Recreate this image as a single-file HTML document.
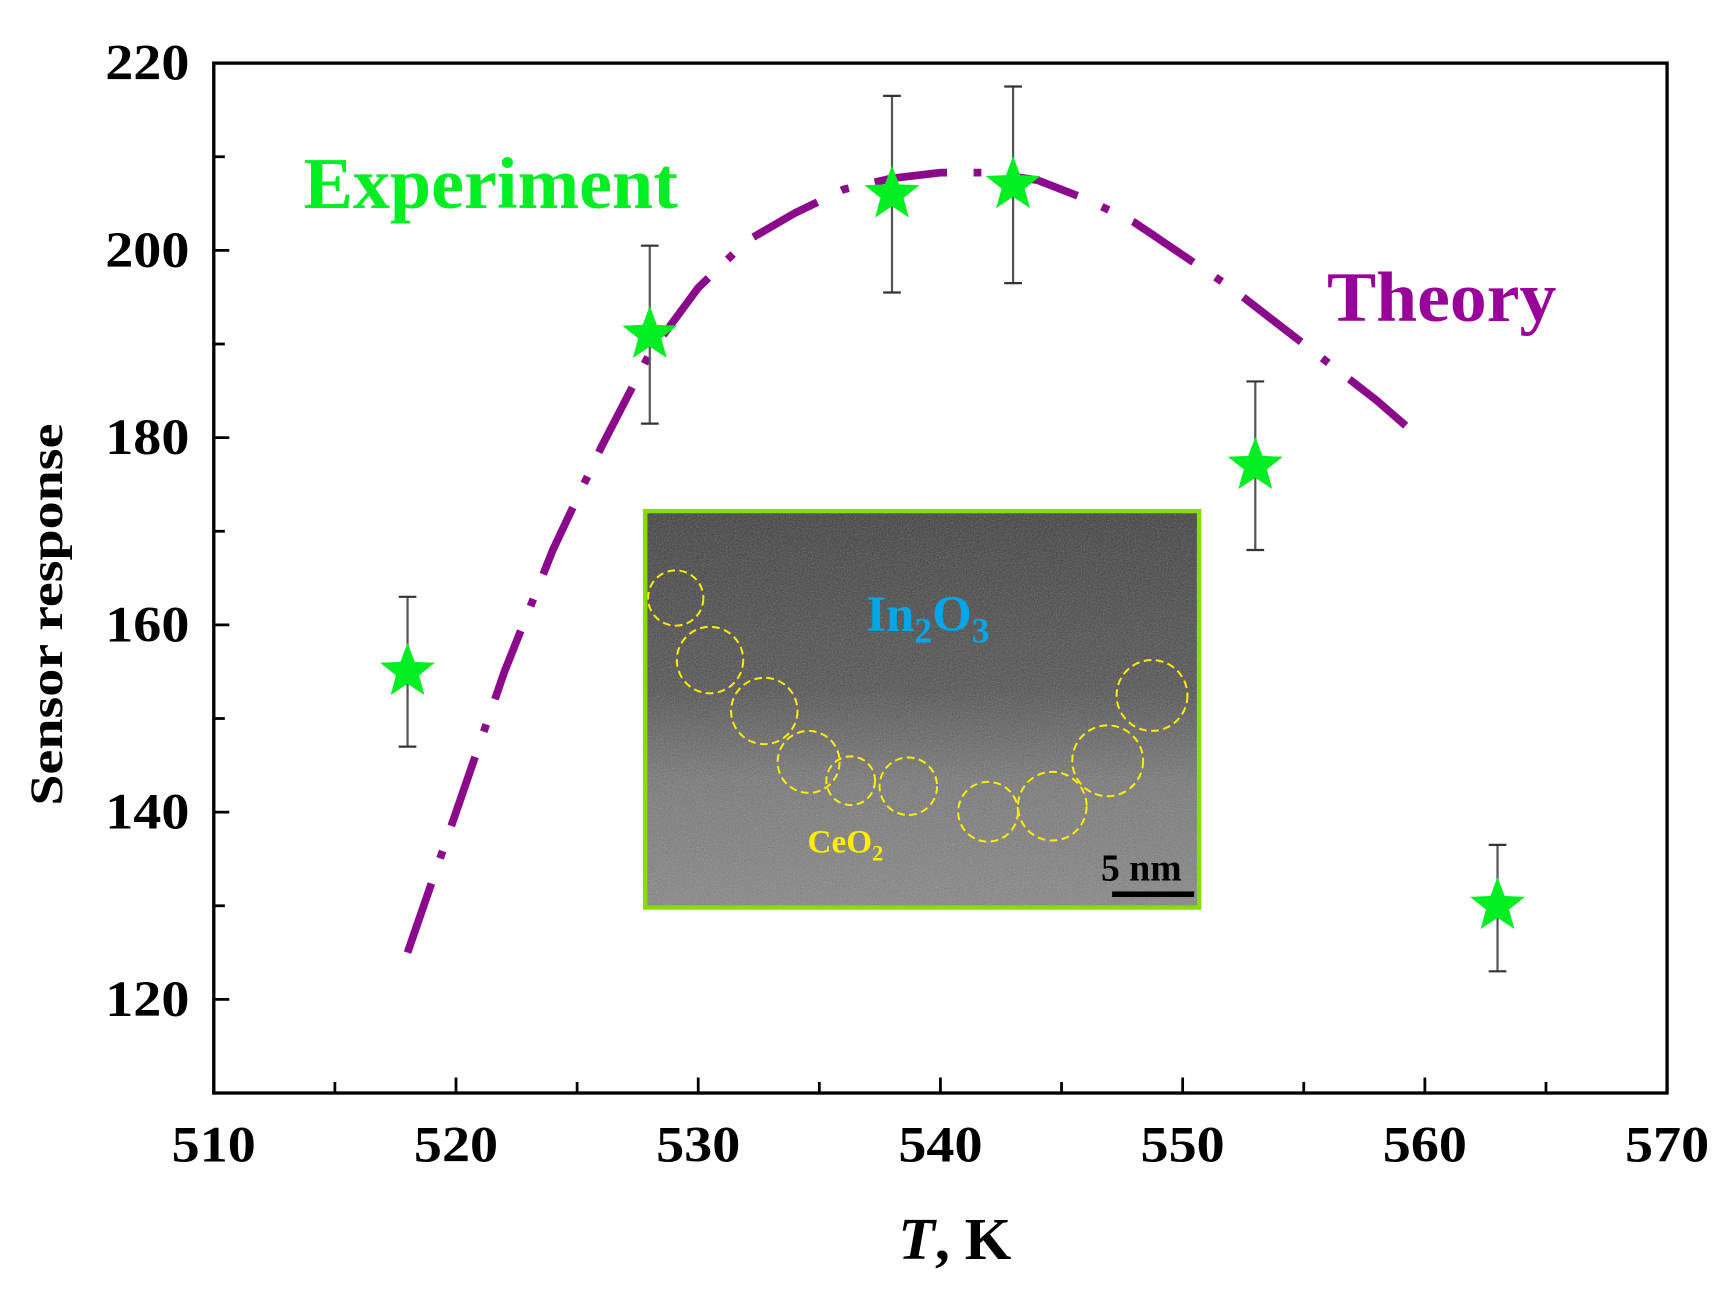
<!DOCTYPE html>
<html><head><meta charset="utf-8"><style>
html,body{margin:0;padding:0;background:#fff;}
svg{display:block;}
text{font-family:"Liberation Serif",serif;font-weight:bold;}
</style></head><body>
<svg id="chart" width="1728" height="1299" viewBox="0 0 1560 1173" preserveAspectRatio="none" xmlns="http://www.w3.org/2000/svg">
<defs>
<linearGradient id="temGrad" x1="0" y1="0" x2="0" y2="1">
<stop offset="0" stop-color="#3a3a3a"/><stop offset="0.45" stop-color="#4e4e4e"/><stop offset="0.68" stop-color="#747474"/><stop offset="1" stop-color="#838383"/>
</linearGradient>
<filter id="noise" x="0" y="0" width="100%" height="100%">
<feTurbulence type="fractalNoise" baseFrequency="0.8" numOctaves="2" result="t"/>
<feColorMatrix type="saturate" values="0"/>
</filter>
</defs>
<g id="inset">
<rect x="584" y="462" width="497" height="356" fill="url(#temGrad)"/>
<rect x="584" y="462" width="497" height="356" filter="url(#noise)" opacity="0.4"/>
<g fill="none" stroke="#ffee00" stroke-width="1.8" stroke-dasharray="7,4">
<circle cx="610" cy="540" r="25"/><circle cx="641" cy="596" r="30"/><circle cx="690" cy="642" r="30"/>
<circle cx="730" cy="688" r="28"/><circle cx="768" cy="705" r="22"/><circle cx="820" cy="710" r="26"/>
<circle cx="892" cy="733" r="27"/><circle cx="950" cy="728" r="31"/><circle cx="1000" cy="687" r="32"/><circle cx="1040" cy="628" r="32"/>
</g>
<text x="782" y="570" font-size="46" fill="#00a6e6" font-weight="normal">In<tspan font-size="32" dy="10">2</tspan><tspan dy="-10">O</tspan><tspan font-size="32" dy="10">3</tspan></text>
<text x="729" y="770" font-size="30" fill="#ffee00" font-weight="normal">CeO<tspan font-size="20" dy="7">2</tspan></text>
<text x="994" y="795" font-size="34" fill="#000">5 nm</text>
<rect x="1004" y="805" width="74" height="5" fill="#000"/>
<rect x="582.5" y="461.5" width="500" height="358" fill="none" stroke="#88dd00" stroke-width="4"/>
</g>
<g id="axes"></g>
<g id="theory"></g>
<g id="points"></g>
<text x="274" y="188" font-size="66" fill="#00ee22" textLength="338" lengthAdjust="spacingAndGlyphs">Experiment</text>
<text x="1198" y="290" font-size="64" fill="#990099" textLength="207" lengthAdjust="spacingAndGlyphs">Theory</text>
<text transform="translate(56,555) rotate(-90)" text-anchor="middle" font-size="42" fill="#000" textLength="345" lengthAdjust="spacingAndGlyphs">Sensor response</text>
<text x="862" y="1137" text-anchor="middle" font-size="54" fill="#000"><tspan font-style="italic">T</tspan>, K</text>
</svg>
<script>
const xTicks=[510,520,530,540,550,560,570];
const yTicks=[120,140,160,180,200,220];
const expT=[518,528,538,543,553,563];
const expVal=[155,191,206,207,177,130];
const errLow=[147,181.5,195.5,196.5,168,123];
const errHigh=[163,200.5,216.5,217.5,186,136.5];
const theoryT=[518,520,522,524,526,528,530,532,534,536,538,540,542,544,546,548,550,552,554,556,558,560];
const theoryVal=[125,140,155,168,179,189,196,201,204,206.5,207.7,208.3,208.3,207.5,205.5,203,199.5,196,192,188,184,179.5];
const NS='http://www.w3.org/2000/svg';
const L=193,R=1505,T=57,B=987;
const xs=v=>L+(v-510)/60*(R-L);
const ys=v=>T+(220-v)/110*(B-T);
function mk(tag,attrs,parent){const e=document.createElementNS(NS,tag);for(const k in attrs)e.setAttribute(k,attrs[k]);parent.appendChild(e);return e;}
const ax=document.getElementById('axes');
const frame=mk('rect',{x:L,y:T,width:R-L,height:B-T,fill:'none',stroke:'#000','stroke-width':3},ax);


for(let v=510;v<=570;v+=5){
  const len=(v%10===0)?14:10;
  const t=mk('line',{x1:xs(v),x2:xs(v),y1:B,y2:B-len,stroke:'#000','stroke-width':2.5},ax);
  
  
}
for(let v=110;v<=220;v+=10){
  const len=(v%20===0)?14:10;
  const t=mk('line',{x1:L,x2:L+len,y1:ys(v),y2:ys(v),stroke:'#000','stroke-width':2.5},ax);
  
  
}
xTicks.forEach(v=>{
  const t=mk('text',{x:xs(v),y:B+62,'text-anchor':'middle','font-size':46,fill:'#000',textLength:76,lengthAdjust:'spacingAndGlyphs'},ax);
  t.textContent=v;
  
  
});
yTicks.forEach(v=>{
  const t=mk('text',{x:L-22,y:ys(v)+15,'text-anchor':'end','font-size':46,fill:'#000',textLength:76,lengthAdjust:'spacingAndGlyphs'},ax);
  t.textContent=v;
  
  
});
const th=document.getElementById('theory');
let d='';
theoryT.forEach((t,i)=>{d+=(i?'L':'M')+xs(t).toFixed(1)+','+ys(theoryVal[i]).toFixed(1);});
const path=mk('path',{d:d,fill:'none',stroke:'#8b0a8b','stroke-width':7,'stroke-dasharray':'66,24,7,24','stroke-linecap':'butt'},th);


const pts=document.getElementById('points');
function starPath(cx,cy,r){let s='';for(let i=0;i<10;i++){const a=-Math.PI/2+i*Math.PI/5;const rr=i%2?r*0.42:r;s+=(i?'L':'M')+(cx+rr*Math.cos(a)).toFixed(1)+','+(cy+rr*Math.sin(a)).toFixed(1);}return s+'Z';}
expT.forEach((t,i)=>{
  const x=xs(t);
  const g=mk('g',{},pts);
  
  
  mk('line',{x1:x,x2:x,y1:ys(errLow[i]),y2:ys(errHigh[i]),stroke:'#555','stroke-width':2},g);
  mk('line',{x1:x-8,x2:x+8,y1:ys(errLow[i]),y2:ys(errLow[i]),stroke:'#333','stroke-width':2},g);
  mk('line',{x1:x-8,x2:x+8,y1:ys(errHigh[i]),y2:ys(errHigh[i]),stroke:'#333','stroke-width':2},g);
  mk('path',{d:starPath(x,ys(expVal[i]),26),fill:'#00ee22'},g);
});
</script>
</body></html>
